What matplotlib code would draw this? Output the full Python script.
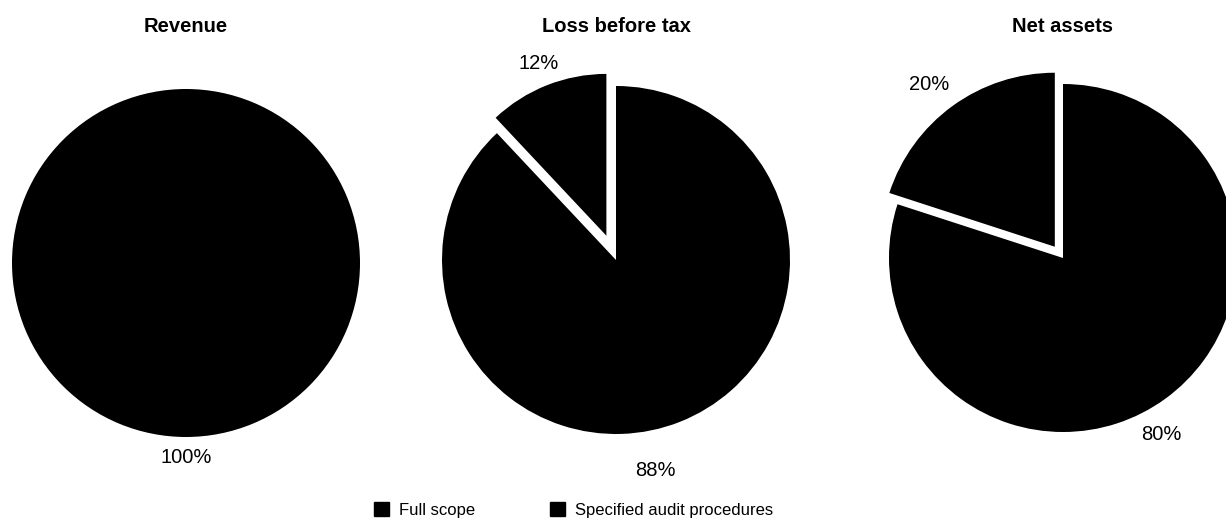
import matplotlib.pyplot as plt
from matplotlib.patches import Patch

plt.rcParams['font.family'] = ['Liberation Sans', 'DejaVu Sans']

# data
titles = ["Revenue", "Loss before tax", "Net assets"]
categories = ["Full scope", "Specified audit procedures"]
full_scope = [100, 88, 80]
specified = [0, 12, 20]

# layout (pixels in a 1226x519 figure)
W, H = 1226, 519
R = 174
centers = [(186, 263), (616, 260), (1063, 258)]
explode_amt = [0.0, 0.15, 0.08]
small_radius = [1.0, 0.93, 1.0]
# label positions in pie units, relative to pie centre
label_pos = [
    [(0.0, -1.115)],
    [(0.224, -1.207), (-0.443, 1.132)],
    [(0.563, -1.017), (-0.770, 1.0)],
]

fig = plt.figure(figsize=(W / 100, H / 100), dpi=100)

LIM = 1.35
for i, title in enumerate(titles):
    cx, cy = centers[i]
    half = LIM * R
    ax = fig.add_axes([(cx - half) / W, (H - cy - half) / H, 2 * half / W, 2 * half / H])

    vals = [full_scope[i], specified[i]]
    vals = [v for v in vals if v > 0]
    explode = [0.0] + [explode_amt[i]] * (len(vals) - 1)
    wedges, _ = ax.pie(vals, explode=explode, colors=["black"] * len(vals),
                       startangle=90, counterclock=False, radius=1.0,
                       wedgeprops=dict(linewidth=0))
    if len(wedges) > 1:
        wedges[1].set_radius(small_radius[i])
    ax.set_xlim(-LIM, LIM)
    ax.set_ylim(-LIM, LIM)
    ax.set_aspect('equal')
    ax.axis('off')

    for v, (lx, ly) in zip(vals, label_pos[i]):
        ax.text(lx, ly, "%d%%" % v, ha='center', va='center', fontsize=14.5, color='black')

    fig.text(cx / W, 1 - 26 / H, title, ha='center', va='center',
             fontsize=14.5, fontweight='bold', color='black')

handles = [Patch(facecolor='black', edgecolor='black', label=c) for c in categories]
fig.legend(handles=handles, ncol=2, loc='center', bbox_to_anchor=(0.468, 1 - 510 / H),
           frameon=False, fontsize=12, handlelength=0.9, handleheight=0.9,
           handletextpad=0.6, columnspacing=4.5)

fig.savefig("out.png", dpi=100)
